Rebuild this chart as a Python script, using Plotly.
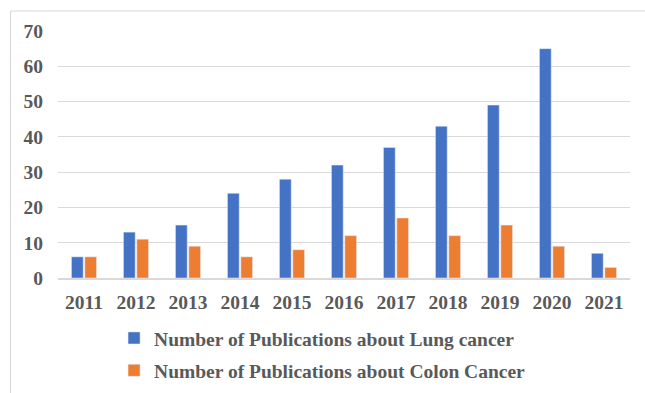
import plotly.graph_objects as go

years = ["2011", "2012", "2013", "2014", "2015", "2016", "2017", "2018", "2019", "2020", "2021"]
lung = [6, 13, 15, 24, 28, 32, 37, 43, 49, 65, 7]
colon = [6, 11, 9, 6, 8, 12, 17, 12, 15, 9, 3]
lung_name = "Number of Publications about Lung cancer"
colon_name = "Number of Publications about Colon Cancer"

FONT = "Liberation Serif, Times New Roman, serif"
GRAY = "#595959"
FS = 19.5

fig = go.Figure()
fig.add_trace(go.Bar(x=years, y=lung, name=lung_name, marker_color="#4472C4",
                     legendgroup="a"))
fig.add_trace(go.Bar(x=years, y=colon, name=colon_name, marker_color="#ED7D31",
                     legendgroup="b"))

fig.update_layout(
    width=645, height=393,
    margin=dict(l=58, r=15, t=31, b=115, autoexpand=False),
    paper_bgcolor="white", plot_bgcolor="white",
    barmode="group", bargap=0.487, bargroupgap=0.12,
    font=dict(family=FONT, size=FS, color=GRAY),
    showlegend=True,
    legend=dict(orientation="v", x=0.098, xanchor="left", y=-0.165, yanchor="top",
                font=dict(family=FONT, size=FS, color=GRAY, weight="bold"),
                tracegroupgap=4, bgcolor="rgba(0,0,0,0)"),
    xaxis=dict(showgrid=False, showline=True, linecolor="#d9d9d9", linewidth=1.5,
               ticks="", tickfont=dict(family=FONT, size=FS, color=GRAY, weight="bold"),
               ticklabelstandoff=6),
    yaxis=dict(range=[0, 70], dtick=10, showgrid=True, gridcolor="#d9d9d9", gridwidth=1,
               zeroline=False, ticks="", showline=False,
               tickfont=dict(family=FONT, size=FS, color=GRAY, weight="bold"),
               ticklabelstandoff=14),
    shapes=[
        dict(type="line", xref="paper", yref="paper", x0=-0.083, x1=1.2, y0=1.081, y1=1.081,
             line=dict(color="#d9d9d9", width=1.2)),
        dict(type="line", xref="paper", yref="paper", x0=-0.083, x1=-0.083, y0=1.081, y1=-0.6,
             line=dict(color="#d9d9d9", width=1.2)),
    ],
)

fig.write_html("out.html")
